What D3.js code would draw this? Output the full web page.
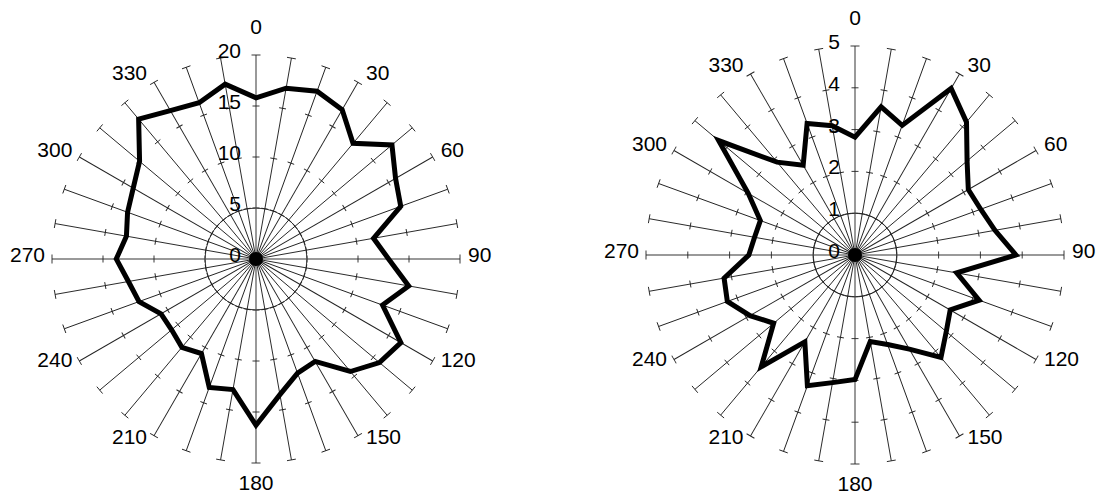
<!DOCTYPE html>
<html>
<head>
<meta charset="utf-8">
<script src="https://cdn.jsdelivr.net/npm/d3@7"></script>
<style>
  html, body { margin: 0; padding: 0; background: #fff; }
  svg { display: block; }
  text { font-family: "Liberation Sans", Arial, sans-serif; font-size: 21px; fill: #000; }
</style>
</head>
<body>
<svg id="chart" width="1098" height="496"></svg>
<script>
// Compass directions (degrees) of the 36 spokes
const directions = [0, 10, 20, 30, 40, 50, 60, 70, 80, 90, 100, 110,
                    120, 130, 140, 150, 160, 170, 180, 190, 200, 210, 220, 230,
                    240, 250, 260, 270, 280, 290, 300, 310, 320, 330, 340, 350];
// Directions that carry a label around the rim
const angleLabels = [0, 30, 60, 90, 120, 150, 180, 210, 240, 270, 300, 330];

// Left rose: value per direction
const leftValues = [15.8, 17.0, 17.5, 16.9, 14.8, 17.4, 15.8, 15.1, 11.7, 13.0, 15.2, 13.2,
                    16.4, 15.8, 14.4, 11.6, 11.9, 13.5, 16.3, 13.0, 13.4, 10.7, 11.3, 10.8,
                    10.75, 12.2, 12.7, 13.7, 12.9, 13.4, 13.9, 14.9, 17.9, 16.8, 16.3, 17.4];
const leftRings = [0, 5, 10, 15, 20];

// Right rose: value per direction
const rightValues = [2.82, 3.6, 3.3, 4.6, 4.15, 3.5, 3.13, 3.2, 3.4, 3.85, 2.47, 3.16,
                     2.63, 2.85, 3.2, 2.6, 2.28, 2.1, 2.98, 3.1, 3.33, 2.4, 3.49, 2.54,
                     2.9, 3.25, 3.18, 2.54, 2.44, 2.41, 2.95, 4.26, 2.9, 2.48, 3.35, 3.14];
const rightRings = [0, 1, 2, 3, 4, 5];

const svg = d3.select("#chart");

function drawRose(cfg) {
  const max = d3.max(cfg.rings);
  const r = d3.scaleLinear().domain([0, max]).range([0, cfg.radius]);
  const a = d3.scaleLinear().domain([0, 360]).range([0, 2 * Math.PI]);
  const g = svg.append("g").attr("transform", `translate(${cfg.cx},${cfg.cy})`);

  // innermost ring drawn as a full circle
  g.append("circle")
    .attr("r", r(cfg.rings[1]))
    .attr("fill", "none")
    .attr("stroke", "#222")
    .attr("stroke-width", 0.9);

  // spokes with a tick at every ring and a cap at the rim
  directions.forEach(deg => {
    const cardinal = deg % 90 === 0;
    const sg = g.append("g").attr("transform", `rotate(${deg})`);
    sg.append("line")
      .attr("x1", 0).attr("y1", 0)
      .attr("x2", 0).attr("y2", -r(max))
      .attr("stroke", cardinal ? "#777" : "#222")
      .attr("stroke-width", cardinal ? 1.5 : 0.9);
    cfg.rings.filter(v => v > 0).forEach(v => {
      const half = v === max ? 4.5 : 3.5;
      sg.append("line")
        .attr("x1", -half).attr("x2", half)
        .attr("y1", -r(v)).attr("y2", -r(v))
        .attr("stroke", "#222").attr("stroke-width", 0.9);
    });
  });

  // data outline
  const line = d3.lineRadial()
    .angle(d => a(d.deg))
    .radius(d => r(d.value))
    .curve(d3.curveLinearClosed);
  g.append("path")
    .datum(directions.map((deg, i) => ({ deg, value: cfg.values[i] })))
    .attr("d", line)
    .attr("fill", "none")
    .attr("stroke", "#000")
    .attr("stroke-width", 5)
    .attr("stroke-linejoin", "miter")
    .attr("stroke-miterlimit", 4);

  // hub
  g.append("circle").attr("r", 7).attr("fill", "#000");

  // ring values along the north spoke
  g.selectAll("text.ring")
    .data(cfg.rings)
    .join("text")
    .attr("class", "ring")
    .attr("x", -15)
    .attr("y", v => -r(v) + 3)
    .attr("text-anchor", "end")
    .text(v => v);

  // direction labels around the rim
  g.selectAll("text.dir")
    .data(angleLabels)
    .join("text")
    .attr("class", "dir")
    .each(function (deg) {
      const t = a(deg);
      const ex = r(max) * Math.sin(t);
      const ey = -r(max) * Math.cos(t);
      const s = d3.select(this);
      if (deg === 0) {
        s.attr("x", ex).attr("y", ey - 21).attr("text-anchor", "middle");
      } else if (deg === 180) {
        s.attr("x", ex).attr("y", ey + 27).attr("text-anchor", "middle");
      } else if (deg < 180) {
        s.attr("x", ex + 8).attr("y", ey - 6 * Math.cos(t) + 3).attr("text-anchor", "start");
      } else {
        s.attr("x", ex - 7).attr("y", ey - 6 * Math.cos(t) + 3).attr("text-anchor", "end");
      }
    })
    .text(d => d);
}

drawRose({ cx: 256, cy: 259, radius: 204, rings: leftRings, values: leftValues });
drawRose({ cx: 855, cy: 255, radius: 209, rings: rightRings, values: rightValues });
</script>
</body>
</html>
